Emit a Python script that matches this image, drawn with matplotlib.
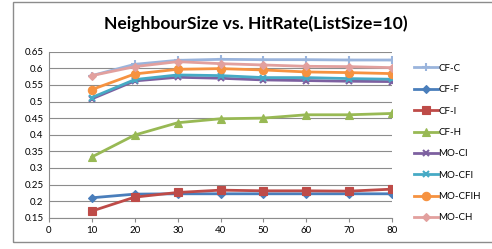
import matplotlib
matplotlib.use("Agg")
import matplotlib.pyplot as plt
from matplotlib.patches import Rectangle

neighbour_size = [10, 20, 30, 40, 50, 60, 70, 80]
cf_c = [0.578, 0.612, 0.624, 0.627, 0.626, 0.626, 0.625, 0.625]
cf_f = [0.210, 0.221, 0.222, 0.222, 0.222, 0.222, 0.222, 0.222]
cf_i = [0.170, 0.212, 0.226, 0.233, 0.231, 0.231, 0.230, 0.236]
cf_h = [0.333, 0.399, 0.436, 0.448, 0.450, 0.460, 0.460, 0.464]
mo_ci = [0.508, 0.562, 0.573, 0.570, 0.565, 0.563, 0.561, 0.560]
mo_cfi = [0.512, 0.566, 0.580, 0.578, 0.572, 0.572, 0.569, 0.567]
mo_cfih = [0.536, 0.583, 0.597, 0.599, 0.595, 0.589, 0.587, 0.584]
mo_ch = [0.578, 0.605, 0.620, 0.614, 0.610, 0.606, 0.605, 0.602]

series = [
    ("CF-C", cf_c, "#9AB4DC", "+", 6),
    ("CF-F", cf_f, "#4A7EBB", "D", 4),
    ("CF-I", cf_i, "#BE4B48", "s", 5.5),
    ("CF-H", cf_h, "#98B954", "^", 6),
    ("MO-CI", mo_ci, "#7D60A0", "x", 5),
    ("MO-CFI", mo_cfi, "#46AAC5", "x", 5),
    ("MO-CFIH", mo_cfih, "#F69240", "o", 6),
    ("MO-CH", mo_ch, "#E2A09E", "D", 4.5),
]

title = "NeighbourSize vs. HitRate(ListSize=10)"
xticks = [0, 10, 20, 30, 40, 50, 60, 70, 80]
yticks = [0.15, 0.2, 0.25, 0.3, 0.35, 0.4, 0.45, 0.5, 0.55, 0.6, 0.65]

plt.rcParams['font.family'] = ['Lato', 'DejaVu Sans']

fig = plt.figure(figsize=(4.92, 2.49), dpi=100)
ax = fig.add_axes([49/492, 1-217.7/249, (392.3-49.3)/492, (217.7-51.7)/249])

for name, vals, color, marker, ms in series:
    ax.plot(neighbour_size, vals, color=color, lw=2.0, marker=marker,
            markersize=ms, markeredgewidth=1.5 if marker in "+x" else 0.8,
            markeredgecolor=color, label=name)

ax.set_xlim(0, 80)
ax.set_ylim(0.15, 0.65)
ax.set_xticks(xticks)
ax.set_yticks(yticks)
ax.set_yticklabels([("%.2f" % v).rstrip("0") for v in yticks])
ax.grid(axis="y", color="#8C8C8C", lw=0.8)
ax.set_axisbelow(True)
for s in ["top", "right"]:
    ax.spines[s].set_visible(False)
for s in ["left", "bottom"]:
    ax.spines[s].set_color("#8C8C8C")
ax.tick_params(axis="x", direction="out", length=3, color="#8C8C8C", labelsize=7, pad=3)
ax.tick_params(axis="y", length=0, labelsize=7, pad=4)

fig.text(255.5/492, 1-24/249, title, ha="center", va="center",
         fontsize=12.6, fontweight="bold")

leg = fig.legend(loc="upper left", bbox_to_anchor=(410/492, 1-60/249),
                 frameon=False, fontsize=7, handlelength=2.5,
                 handletextpad=0.0, labelspacing=1.27, borderaxespad=0)

fig.patches.append(Rectangle((13/492, 1-242/249), 1.2, (242-2)/249,
                             transform=fig.transFigure, fill=False,
                             edgecolor="#8C8C8C", lw=1.0))

fig.savefig("out.png", dpi=100)
